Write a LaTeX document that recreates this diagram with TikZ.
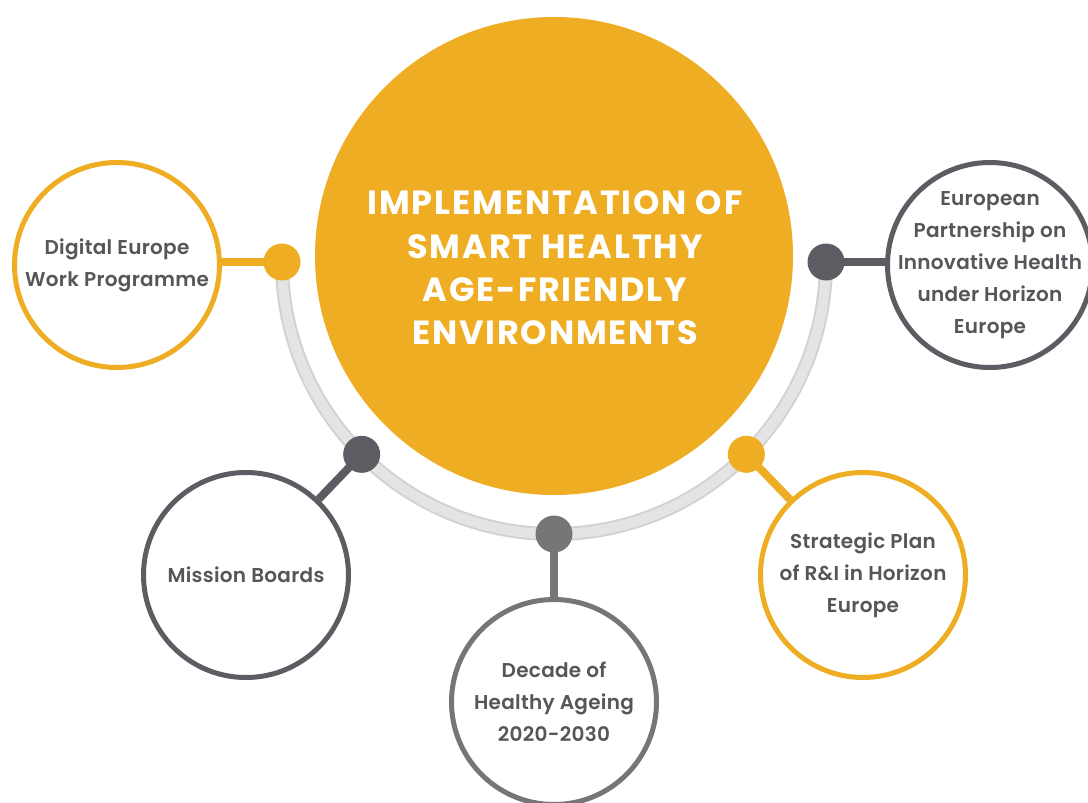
\documentclass[tikz,border=0pt]{standalone}
\usepackage{fontspec}
\usetikzlibrary{calc}
\setmainfont{Poppins}
\newfontfamily\labelfont{Poppins SemiBold}[LetterSpace=1.5]
\newfontfamily\titlefont{Poppins Bold}[LetterSpace=5.5]
\definecolor{amber}{HTML}{EFAD24}
\definecolor{slate}{HTML}{5C5D63}
\definecolor{ash}{HTML}{767676}
\definecolor{ink}{HTML}{555659}
\definecolor{track}{HTML}{E4E4E4}
\definecolor{trackedge}{HTML}{D2D2D2}
\tikzset{
  hub/.style={circle, fill=amber, minimum size=478pt, inner sep=0pt},
  title/.style={text=white, font=\titlefont\fontsize{33.5}{43.3}\selectfont, align=center},
  ring/.style={circle, draw=#1, line width=5pt, fill=white, minimum size=205pt, inner sep=0pt},
  caption/.style={text=ink, font=\labelfont\fontsize{20}{32}\selectfont, align=center, inner sep=0pt},
  knob/.style={circle, fill=#1, minimum size=37pt, inner sep=0pt},
  stem/.style={draw=#1, line width=8pt},
}
\begin{document}
\begin{tikzpicture}[x=1pt, y=-1pt]
  \useasboundingbox (0,0) rectangle (1088,803);
  \clip (0,0) rectangle (1088,803);
  \fill[white] (0,0) rectangle (1088,803);
  \coordinate (C) at (554,262);
  % track around the hub
  \draw[trackedge, line width=14pt] ($(C)+(0:272)$) arc[start angle=0, end angle=180, radius=272];
  \draw[track, line width=10pt] ($(C)+(0:272)$) arc[start angle=0, end angle=180, radius=272];
  % hub and its title
  \node[hub] (hub) at (554,256) {};
  \node[title] (headline) at (555,268) {IMPLEMENTATION OF\\SMART HEALTHY\\AGE-FRIENDLY\\ENVIRONMENTS};
  % knob positions on the track
  \coordinate (k1) at ($(C)+(180:272)$);
  \coordinate (k2) at ($(C)+(135:272)$);
  \coordinate (k3) at ($(C)+(90:272)$);
  \coordinate (k4) at ($(C)+(45:272)$);
  \coordinate (k5) at ($(C)+(0:272)$);
  % topic rings
  \node[ring=amber] (t1) at (117,265) {};
  \node[ring=slate] (t2) at (246,575) {};
  \node[ring=ash]   (t3) at (554,702) {};
  \node[ring=amber] (t4) at (863,575) {};
  \node[ring=slate] (t5) at (990,265) {};
  % stems from knobs to topic rings
  \draw[stem=amber] (k1) -- (k1 -| t1.east);
  \draw[stem=slate] (k2) -- (t2);
  \draw[stem=ash]   (k3) -- (t3);
  \draw[stem=amber] (k4) -- (t4);
  \draw[stem=slate] (k5) -- (k5 -| t5.west);
  % knobs
  \node[knob=amber] (n1) at (k1) {};
  \node[knob=slate] (n2) at (k2) {};
  \node[knob=ash]   (n3) at (k3) {};
  \node[knob=amber] (n4) at (k4) {};
  \node[knob=slate] (n5) at (k5) {};
  % topic captions
  \node[caption] (c1) at (t1) {Digital Europe\\Work Programme};
  \node[caption] (c2) at (t2) {Mission Boards};
  \node[caption] (c3) at (t3) {Decade of\\Healthy Ageing\\2020-2030};
  \node[caption] (c4) at (t4) {Strategic Plan\\of R\&I in Horizon\\Europe};
  \node[caption] (c5) at (t5) {European\\Partnership on\\Innovative Health\\under Horizon\\Europe};
\end{tikzpicture}
\end{document}
